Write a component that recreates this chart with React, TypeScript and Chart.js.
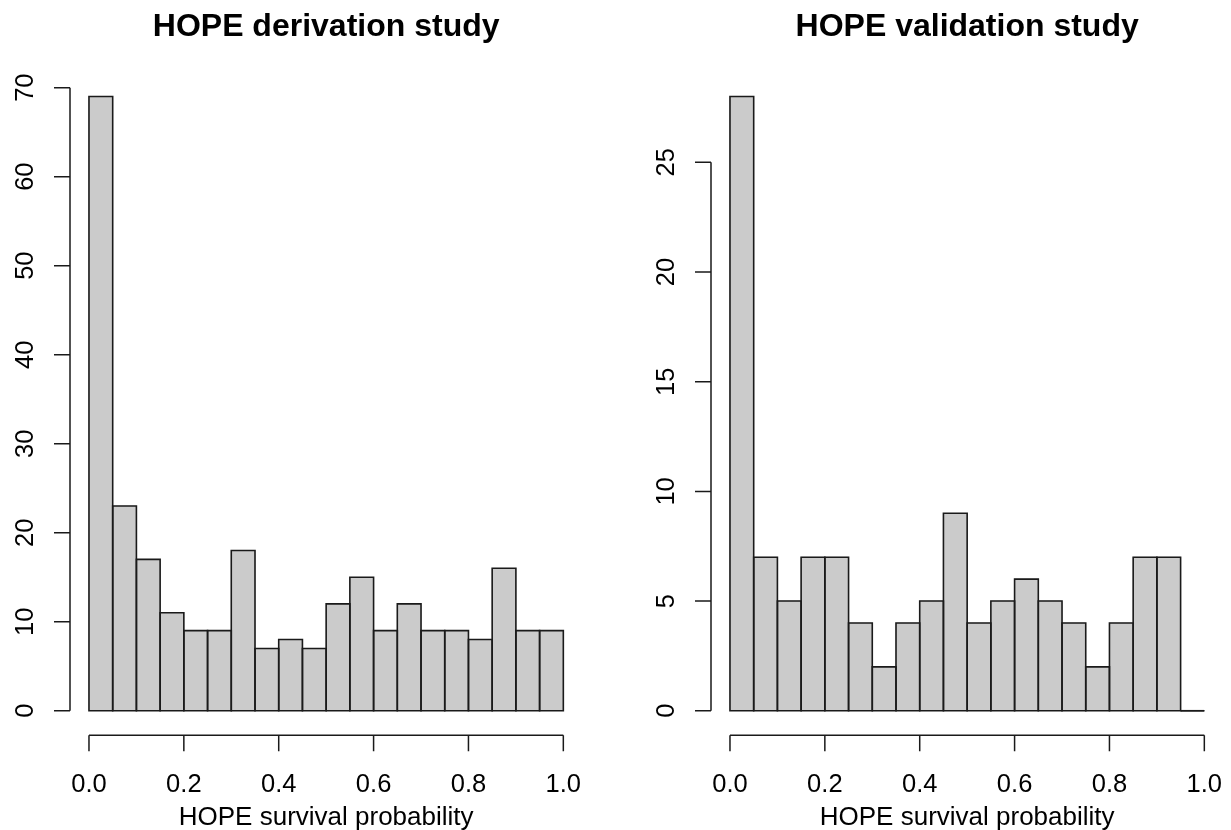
import React, { useEffect, useRef } from 'react';
import { Chart, registerables } from 'chart.js';

Chart.register(...registerables);

// ---- data ----
const binMids = [
  0.025, 0.075, 0.125, 0.175, 0.225, 0.275, 0.325, 0.375, 0.425, 0.475,
  0.525, 0.575, 0.625, 0.675, 0.725, 0.775, 0.825, 0.875, 0.925, 0.975,
];
const derivationCounts = [69, 23, 17, 11, 9, 9, 18, 7, 8, 7, 12, 15, 9, 12, 9, 9, 8, 16, 9, 9];
const validationCounts = [28, 7, 5, 7, 7, 4, 2, 4, 5, 9, 4, 5, 6, 5, 4, 2, 4, 7, 7, 0];
const xTicks = [0, 0.2, 0.4, 0.6, 0.8, 1.0];
const xTickLabels = ['0.0', '0.2', '0.4', '0.6', '0.8', '1.0'];
const derivationYTicks = [0, 10, 20, 30, 40, 50, 60, 70];
const validationYTicks = [0, 5, 10, 15, 20, 25];
const derivationTitle = 'HOPE derivation study';
const validationTitle = 'HOPE validation study';
const xAxisTitle = 'HOPE survival probability';

const FONT = '"Liberation Sans", Arial, Helvetica, sans-serif';
const INK = '#1a1a1a';

type PanelProps = {
  title: string;
  counts: number[];
  yTicks: number[];
  width: number;
  padLeft: number;
  padRight: number;
};

const rAxesPlugin = (title: string, yTicks: number[]) => ({
  id: 'rAxes',
  afterDatasetsDraw(chart: any) {
    const ctx = chart.ctx as CanvasRenderingContext2D;
    const xs = chart.scales.x;
    const ys = chart.scales.y;
    const area = chart.chartArea;
    ctx.save();
    // bar outlines (R style, centered on edges)
    const meta = chart.getDatasetMeta(0);
    ctx.strokeStyle = INK;
    ctx.lineWidth = 1.6;
    meta.data.forEach((el: any) => {
      const p = el.getProps(['x', 'y', 'base', 'width'], true);
      const left = p.x - p.width / 2;
      ctx.beginPath();
      ctx.rect(left, p.y, p.width, p.base - p.y);
      ctx.stroke();
      if (p.base - p.y === 0) {
        ctx.beginPath();
        ctx.moveTo(left, p.base);
        ctx.lineTo(left + p.width, p.base);
        ctx.stroke();
      }
    });
    ctx.restore();
  },
  afterDraw(chart: any) {
    const ctx = chart.ctx as CanvasRenderingContext2D;
    const xs = chart.scales.x;
    const ys = chart.scales.y;
    const area = chart.chartArea;
    ctx.save();
    ctx.strokeStyle = INK;
    ctx.fillStyle = '#000';
    ctx.lineWidth = 1.5;
    const tickLen = 16;

    // x axis
    const axY = area.bottom;
    ctx.beginPath();
    ctx.moveTo(xs.getPixelForValue(xTicks[0]), axY);
    ctx.lineTo(xs.getPixelForValue(xTicks[xTicks.length - 1]), axY);
    xTicks.forEach((t) => {
      const px = xs.getPixelForValue(t);
      ctx.moveTo(px, axY);
      ctx.lineTo(px, axY + tickLen);
    });
    ctx.stroke();
    ctx.font = `25.5px ${FONT}`;
    ctx.textAlign = 'center';
    ctx.textBaseline = 'alphabetic';
    xTicks.forEach((t, i) => {
      ctx.fillText(xTickLabels[i], xs.getPixelForValue(t), axY + 57);
    });
    ctx.font = `26px ${FONT}`;
    ctx.fillText(xAxisTitle, (area.left + area.right) / 2, axY + 90);

    // y axis
    const axX = area.left;
    ctx.beginPath();
    ctx.moveTo(axX, ys.getPixelForValue(yTicks[0]));
    ctx.lineTo(axX, ys.getPixelForValue(yTicks[yTicks.length - 1]));
    yTicks.forEach((t) => {
      const py = ys.getPixelForValue(t);
      ctx.moveTo(axX, py);
      ctx.lineTo(axX - tickLen, py);
    });
    ctx.stroke();
    ctx.font = `25.5px ${FONT}`;
    yTicks.forEach((t) => {
      ctx.save();
      ctx.translate(axX - 37, ys.getPixelForValue(t));
      ctx.rotate(-Math.PI / 2);
      ctx.fillText(String(t), 0, 0);
      ctx.restore();
    });

    // title
    ctx.font = `bold 32px ${FONT}`;
    ctx.fillText(title, (area.left + area.right) / 2, 36);
    ctx.restore();
  },
});

function Panel({ title, counts, yTicks, width, padLeft, padRight }: PanelProps) {
  const ref = useRef<HTMLCanvasElement | null>(null);
  useEffect(() => {
    if (!ref.current) return;
    const ymax = Math.max(...counts);
    const chart = new Chart(ref.current, {
      type: 'bar',
      data: {
        datasets: [
          {
            data: binMids.map((m, i) => ({ x: m, y: counts[i] })),
            backgroundColor: '#cbcbcb',
            borderWidth: 0,
            barPercentage: 1,
            categoryPercentage: 1,
          } as any,
        ],
      },
      options: {
        animation: false,
        responsive: false,
        devicePixelRatio: 1,
        layout: { padding: { left: padLeft, right: padRight, top: 72, bottom: 94.7 } },
        plugins: { legend: { display: false }, tooltip: { enabled: false }, title: { display: false } },
        scales: {
          x: { type: 'linear', display: false, min: -0.04, max: 1.04, offset: false },
          y: { type: 'linear', display: false, min: -0.04 * ymax, max: 1.04 * ymax },
        },
      },
      plugins: [rAxesPlugin(title, yTicks)],
    });
    return () => chart.destroy();
  }, [title, counts, yTicks, width, padLeft, padRight]);
  return <canvas ref={ref} width={width} height={830} style={{ display: 'block', width, height: 830 }} />;
}

export default function App() {
  return (
    <div style={{ position: 'absolute', left: 0, top: 0, width: 1231, height: 830, background: '#fff', display: 'flex' }}>
      <Panel title={derivationTitle} counts={derivationCounts} yTicks={derivationYTicks} width={615} padLeft={70} padRight={32.7} />
      <Panel title={validationTitle} counts={validationCounts} yTicks={validationYTicks} width={616} padLeft={96} padRight={7.7} />
    </div>
  );
}
